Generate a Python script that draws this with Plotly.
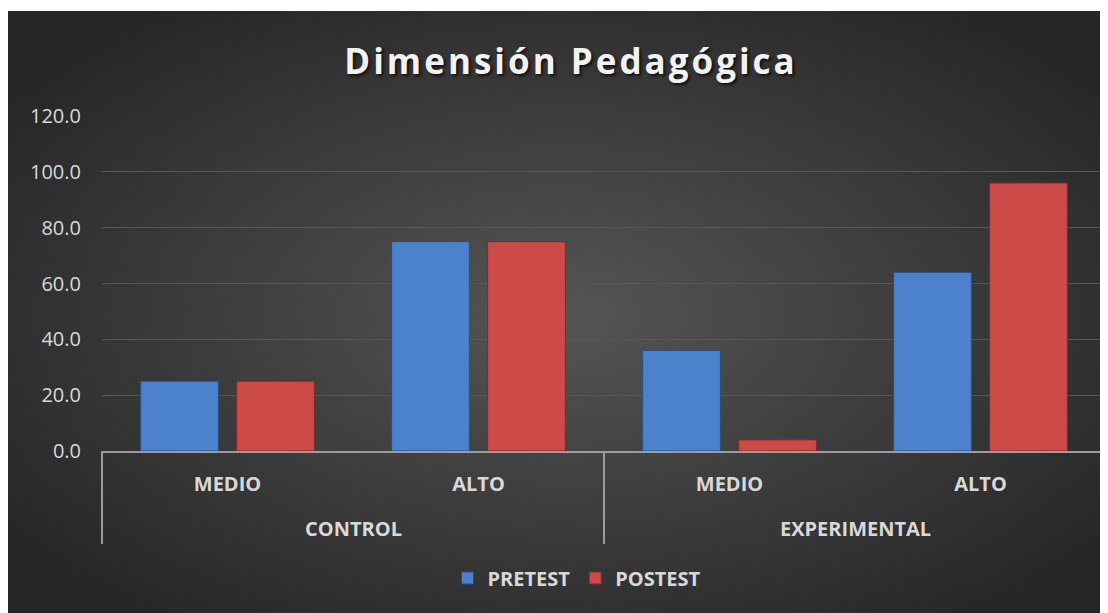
import base64
import plotly.graph_objects as go

# ---- data ----
groups = ["CONTROL", "CONTROL", "EXPERIMENTAL", "EXPERIMENTAL"]
levels = ["MEDIO", "ALTO", "MEDIO", "ALTO"]
pretest = [25, 75, 36, 64]
postest = [25, 75, 4, 96]
y_ticks = [0, 20, 40, 60, 80, 100, 120]
title_text = "Dimensión Pedagógica"

FONT = "Open Sans"
TXT = "#d9d9d9"
LINE = "#9c9c9c"

keys = [g + " | " + l for g, l in zip(groups, levels)]
n = len(keys)

# figure-pixel layout (page body adds 8px offset)
L, R, T, B = 94, 10, 108, 170
W, H = 1108, 613
pw, ph = W - L - R, H - T - B

# radial gradient background (decorative)
svg = (
    '<svg xmlns="http://www.w3.org/2000/svg" width="1108" height="610" viewBox="0 0 1108 610" preserveAspectRatio="none">'
    '<defs><radialGradient id="g" cx="0.5" cy="0.5" r="0.62">'
    '<stop offset="0" stop-color="#555555"/>'
    '<stop offset="1" stop-color="#262626"/>'
    '</radialGradient></defs>'
    '<rect width="1108" height="610" fill="url(#g)"/></svg>'
)
svg_uri = "data:image/svg+xml;base64," + base64.b64encode(svg.encode()).decode()

fig = go.Figure()
fig.add_trace(go.Bar(
    name="PRETEST", x=keys, y=pretest,
    marker=dict(color="#4c82cc", line=dict(color="#2b4d80", width=1)),
))
fig.add_trace(go.Bar(
    name="POSTEST", x=keys, y=postest,
    marker=dict(color="#cc4b48", line=dict(color="#7e2a28", width=1)),
))

# group labels and dividers for the two-level category axis
annotations = []
shapes = []
bounds = [0]
uniq = []
for g in groups:
    if g not in uniq:
        uniq.append(g)
for g in uniq:
    idx = [i for i, gg in enumerate(groups) if gg == g]
    annotations.append(dict(
        text=g, xref="x", yref="paper",
        x=sum(idx) / len(idx), y=(443 - 520) / ph,
        showarrow=False, xanchor="center", yanchor="middle",
        font=dict(family=FONT, size=20, color=TXT, weight="bold"),
    ))
    bounds.append(max(idx) + 1)
for bnd in bounds:
    shapes.append(dict(
        type="line", xref="paper", yref="paper",
        x0=bnd / n, x1=bnd / n, y0=0, y1=(443 - 536) / ph,
        line=dict(color=LINE, width=2), layer="above",
    ))

fig.update_layout(
    width=W, height=H,
    margin=dict(l=L, r=R, t=T, b=B),
    paper_bgcolor="white",
    plot_bgcolor="rgba(0,0,0,0)",
    barmode="group",
    bargap=0.235,
    bargroupgap=0.19,
    title=dict(
        text='<span style="letter-spacing:3px">' + title_text + "</span>",
        x=563 / W, xanchor="center",
        y=1 - 54 / H, yanchor="middle",
        font=dict(family=FONT, size=35, color="#f2f2f2", weight="bold",
                  shadow="2px 2px 3px rgba(0,0,0,0.7)"),
    ),
    font=dict(family=FONT, color=TXT),
    legend=dict(
        orientation="h", x=(569 - L) / pw, xanchor="center",
        y=(443 - 570) / ph, yanchor="middle",
        font=dict(family=FONT, size=20, color=TXT, weight="bold"),
        bgcolor="rgba(0,0,0,0)",
        itemwidth=30,
    ),
    showlegend=True,
    annotations=annotations,
    shapes=shapes,
    images=[dict(
        source=svg_uri, xref="paper", yref="paper",
        x=(0 - L) / pw, y=(443 - 3) / ph,
        sizex=W / pw, sizey=610 / ph,
        xanchor="left", yanchor="top",
        sizing="stretch", layer="below",
    )],
)

fig.update_xaxes(
    type="category",
    tickvals=keys, ticktext=levels,
    range=[-0.5, n - 0.5],
    showgrid=False,
    showline=True, linecolor=LINE, linewidth=2,
    ticks="",
    ticklabelstandoff=14,
    tickfont=dict(family=FONT, size=20, color=TXT, weight="bold"),
)
fig.update_yaxes(
    range=[0, 120],
    tickvals=y_ticks,
    tickformat=".1f",
    showgrid=True, gridcolor="#585858", gridwidth=1,
    zeroline=False, showline=False,
    tickfont=dict(family=FONT, size=20, color=TXT),
    ticklabelstandoff=20,
)

fig.write_html("out.html")
